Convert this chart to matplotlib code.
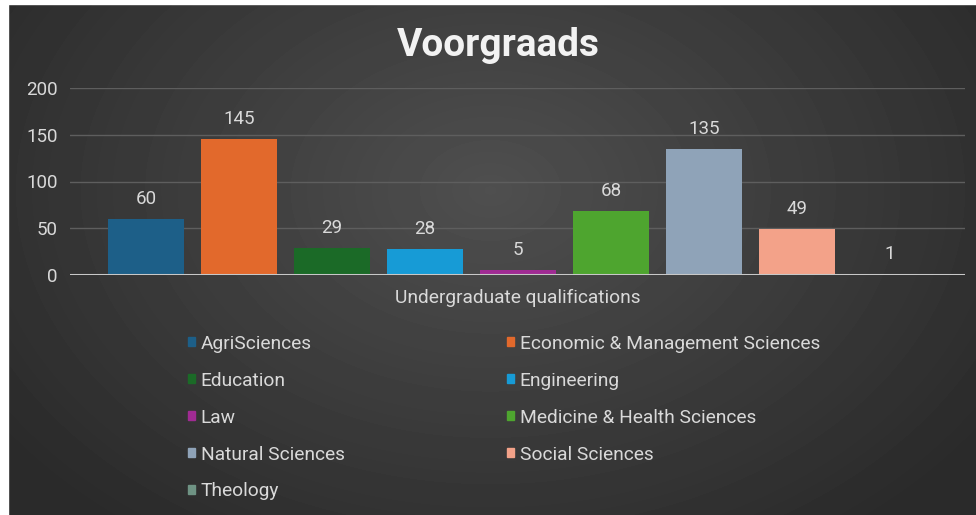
import numpy as np
import matplotlib.pyplot as plt
from matplotlib.patches import Patch, Rectangle

plt.rcParams['font.family'] = ['Roboto', 'DejaVu Sans']

# === Data ===
categories = ["AgriSciences", "Economic & Management Sciences", "Education",
              "Engineering", "Law", "Medicine & Health Sciences",
              "Natural Sciences", "Social Sciences", "Theology"]
values = [60, 145, 29, 28, 5, 68, 135, 49, 1]
colors = ["#1d5f88", "#e2692c", "#1b6a27", "#179bd6", "#a02b93",
          "#4ea52f", "#8fa3b8", "#f3a289", "#6f9384"]
yticks = [0, 50, 100, 150, 200]
title = "Voorgraads"
xlabel = "Undergraduate qualifications"

W, H = 976, 515
fig = plt.figure(figsize=(W / 100, H / 100), dpi=100)

# === Dark radial background ===
bg = fig.add_axes([0, 0, 1, 1])
bg.axis('off')
yy, xx = np.mgrid[0:H, 0:W]
r = np.sqrt(((xx - 490) / 600) ** 2 + ((yy - 190) / 430) ** 2)
shade = 0.31 - 0.145 * np.clip(r, 0, 1)
bg.imshow(shade, cmap='gray', vmin=0, vmax=1, aspect='auto',
          extent=(0, 1, 0, 1), transform=bg.transAxes)
fig.patches.append(Rectangle((0, 0), 8 / W, 1, color='white',
                             transform=fig.transFigure, figure=fig))
fig.patches.append(Rectangle((0, 1 - 4 / H), 1, 4 / H, color='white',
                             transform=fig.transFigure, figure=fig))

# === Bars ===
ax = fig.add_axes([70 / W, (H - 275) / H, 895 / W, 187 / H])
ax.set_facecolor('none')
x = np.arange(len(values))
bars = ax.bar(x, values, width=0.82, color=colors, zorder=3)
ax.bar_label(bars, padding=8, color='#d9d9d9', fontsize=13.5)

ax.set_xlim(-0.817, 8.806)
ax.set_ylim(0, 200)
ax.set_yticks(yticks)
ax.grid(axis='y', color='#5e5e5e', linewidth=1, zorder=0)
ax.axhline(0, color='#c8c8c8', linewidth=2.2, zorder=4)
ax.set_xticks([])
for s in ax.spines.values():
    s.set_visible(False)
ax.tick_params(axis='y', length=0, pad=9, labelcolor='#d9d9d9', labelsize=13.5)

fig.text(498 / W, 1 - 45 / H, title, ha='center', va='center',
         fontsize=28, fontweight='bold', color='#f2f2f2')
fig.text(518 / W, 1 - 298 / H, xlabel, ha='center', va='center',
         fontsize=13.8, color='#d9d9d9')

# === Legend, filled row by row in two columns ===
handles = [Patch(color=c) for c in colors]
for start, x0 in [(0, 178), (1, 497)]:
    leg = fig.legend(handles[start::2], categories[start::2],
                     loc='upper left', bbox_to_anchor=(x0 / W, 1 - 325 / H),
                     frameon=False, fontsize=13.8, borderpad=0,
                     handlelength=0.38, handleheight=0.38, handletextpad=0.3,
                     labelspacing=0.99, labelcolor='#d9d9d9')

plt.savefig("out.png", dpi=100)
